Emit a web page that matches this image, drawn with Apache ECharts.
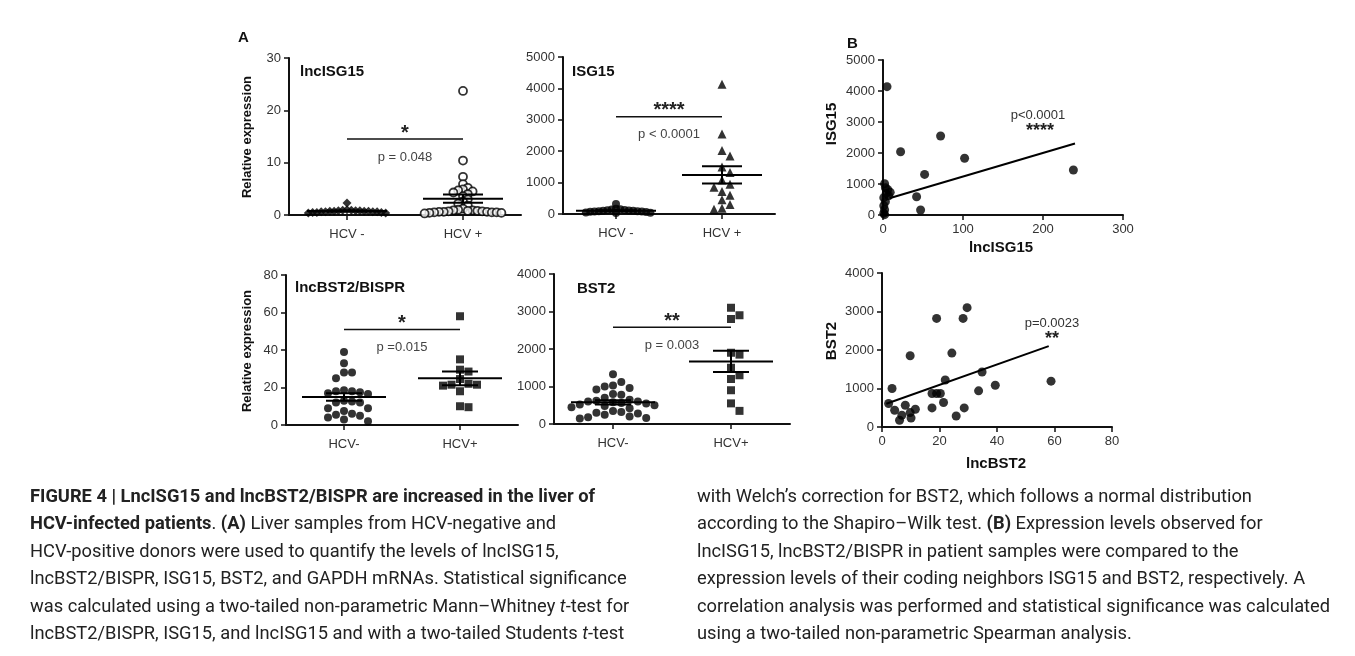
<!DOCTYPE html>
<html><head><meta charset="utf-8">
<script src="https://cdn.jsdelivr.net/npm/echarts/dist/echarts.min.js"></script>
<style>html,body{margin:0;padding:0;background:#fff}#c{width:1355px;height:656px}</style>
</head><body><div id="c"></div><script>
// ---------- data ----------
const groupsTop = ['HCV -', 'HCV +'];
const groupsBottom = ['HCV-', 'HCV+'];

const lncISG15_neg = [2.3, 1.0, 0.9, 0.9, 0.8, 0.8, 0.8, 0.7, 0.7, 0.7, 0.7, 0.6, 0.6, 0.6, 0.6, 0.5, 0.5, 0.5, 0.4, 0.4];
const lncISG15_pos = [23.7, 10.4, 7.3, 5.9, 5.2, 4.9, 4.7, 4.5, 4.3, 4.0, 3.6, 3.0, 2.6, 2.2, 1.8, 1.2, 1.0, 0.9, 0.9, 0.8, 0.8, 0.7, 0.7, 0.6, 0.6, 0.6, 0.5, 0.5, 0.5, 0.4, 0.4, 0.3];

const ISG15_neg = [320, 170, 150, 140, 130, 120, 110, 100, 100, 90, 90, 80, 80, 70, 60, 50, 40, 30];
const ISG15_pos = [4130, 2550, 2020, 1850, 1500, 1320, 1080, 950, 850, 720, 600, 450, 300, 180, 150];

const lncBST2_neg = [39, 33, 28, 28, 25, 18.5, 18, 18, 17.5, 17, 16.5, 13, 12.5, 12, 12, 9, 9, 7.5, 6, 5.5, 5, 4, 3, 2];
const lncBST2_pos = [58, 35, 29.5, 28.5, 24.5, 22, 21.5, 21.5, 21, 18, 10, 9.5];

const BST2_neg = [1330, 1120, 1030, 1000, 960, 920, 800, 780, 700, 650, 620, 600, 600, 580, 560, 550, 520, 500, 480, 450, 420, 350, 320, 300, 280, 250, 200, 180, 160, 150];
const BST2_pos = [3100, 2900, 2800, 1900, 1850, 1500, 1300, 1200, 900, 550, 350];

const scatterISG15 = [[5, 4140], [22, 2040], [72, 2550], [102, 1830], [52, 1310], [42, 590], [47, 160], [238, 1450],
  [2, 1010], [3, 880], [6, 820], [9, 730], [4, 690], [7, 620], [1, 560], [3, 430], [1, 300], [2, 170], [1, 60], [2, 10]];
const scatterBST2 = [[3.5, 1000], [9.8, 1850], [19, 2820], [28.2, 2820], [29.6, 3100], [24.3, 1920], [22, 1220], [34.8, 1430],
  [17.4, 870], [19, 870], [20.3, 870], [39.4, 1085], [33.6, 940], [58.8, 1190], [21.4, 635], [17.4, 495], [28.6, 495], [25.8, 285],
  [2.3, 610], [4.4, 435], [8.1, 565], [6.9, 305], [6.1, 175], [9.8, 375], [11.6, 460], [10.1, 235]];

// regression lines: [intercept, slope, xStart, xEnd]
const fitISG15 = [480, 7.6, 8, 240];
const fitBST2 = [565, 26.5, 1.5, 58];

const sigLevels = [14.5, 3100, 51, 2580];
const sigStars = ['*', '****', '*', '**'];
const sigP = ['p = 0.048', 'p < 0.0001', 'p =0.015', 'p = 0.003'];
const corrP = ['p<0.0001', 'p=0.0023'];
const corrStars = ['****', '**'];

// ---------- helpers ----------
const mean = a => a.reduce((s, v) => s + v, 0) / a.length;
const sem = a => { const m = mean(a); const v = a.reduce((s, x) => s + (x - m) * (x - m), 0) / (a.length - 1); return Math.sqrt(v / a.length); };

function swarm(values, pxPerUnit, step) {
  const order = values.map((v, i) => i).sort((a, b) => values[b] - values[a]);
  const placed = []; const offs = new Array(values.length).fill(0);
  order.forEach(i => {
    const y = values[i] * pxPerUnit;
    for (let k = 0; k < 400; k++) {
      const dx = k === 0 ? 0 : (k % 2 ? 1 : -1) * Math.ceil(k / 2) * step;
      if (placed.every(p => (p.x - dx) * (p.x - dx) + (p.y - y) * (p.y - y) >= step * step * 0.97)) {
        placed.push({ x: dx, y }); offs[i] = dx; break;
      }
    }
  });
  return offs;
}

const FONT = 'Liberation Sans, Arial, sans-serif';
const grids = [
  { left: 289, top: 58, width: 232, height: 157 },
  { left: 563, top: 57, width: 212, height: 157 },
  { left: 286, top: 275, width: 232, height: 150 },
  { left: 554, top: 274, width: 236, height: 150 },
  { left: 883, top: 60, width: 240, height: 155 },
  { left: 882, top: 273, width: 230, height: 154 }
];
const yMax = [30, 5000, 80, 4000, 5000, 4000];
const yInt = [10, 1000, 20, 1000, 1000, 1000];

const axisLine = { show: true, lineStyle: { color: '#111', width: 2 } };
const axisTick = { show: true, length: 5, lineStyle: { color: '#111', width: 1.5 } };
const lab = { color: '#333', fontFamily: FONT, fontSize: 13, formatter: v => String(v) };

const xAxes = [], yAxes = [];
for (let i = 0; i < 6; i++) {
  if (i < 4) {
    xAxes.push({ gridIndex: i, type: 'category', data: i < 2 ? groupsTop : groupsBottom, boundaryGap: true,
      axisLine, axisTick: Object.assign({ alignWithLabel: true }, axisTick),
      axisLabel: { margin: 13, color: '#333', fontFamily: FONT, fontSize: 13 }, splitLine: { show: false } });
  } else {
    xAxes.push({ gridIndex: i, type: 'value', min: 0, max: i === 4 ? 300 : 80, interval: i === 4 ? 100 : 20,
      axisLine, axisTick, axisLabel: Object.assign({ margin: 8 }, lab), splitLine: { show: false } });
  }
  yAxes.push({ gridIndex: i, type: 'value', min: 0, max: yMax[i], interval: yInt[i],
    axisLine, axisTick, axisLabel: Object.assign({ margin: 8 }, lab), splitLine: { show: false } });
}

const series = [];
function dotSeries(gi, cat, values, symbol, size, step, open) {
  const ppu = grids[gi].height / yMax[gi];
  const offs = swarm(values, ppu, step);
  series.push({ type: 'scatter', xAxisIndex: gi, yAxisIndex: gi, symbol, symbolSize: size, z: 3, silent: true,
    itemStyle: open ? { color: '#fff', borderColor: '#000', borderWidth: 1.8 } : { color: '#000' },
    data: values.map((v, i) => ({ value: [cat, v], symbolOffset: [offs[i], 0] })) });
}
function meanSem(gi, arrs, halfW, capW) {
  series.push({ type: 'custom', xAxisIndex: gi, yAxisIndex: gi, z: 5, silent: true,
    data: arrs.map((a, i) => [i, mean(a), sem(a)]),
    renderItem: (p, api) => {
      const c = api.value(0), m = api.value(1), s = api.value(2);
      const pm = api.coord([c, m]), pt = api.coord([c, m + s]), pb = api.coord([c, m - s]);
      const st = { stroke: '#000', lineWidth: 2 };
      return { type: 'group', children: [
        { type: 'line', shape: { x1: pm[0] - halfW, y1: pm[1], x2: pm[0] + halfW, y2: pm[1] }, style: st },
        { type: 'line', shape: { x1: pm[0], y1: pt[1], x2: pm[0], y2: pb[1] }, style: st },
        { type: 'line', shape: { x1: pm[0] - capW, y1: pt[1], x2: pm[0] + capW, y2: pt[1] }, style: st },
        { type: 'line', shape: { x1: pm[0] - capW, y1: pb[1], x2: pm[0] + capW, y2: pb[1] }, style: st }
      ] };
    } });
}
function sig(gi, k) {
  series.push({ type: 'custom', xAxisIndex: gi, yAxisIndex: gi, z: 6, silent: true,
    data: [[0.5, sigLevels[k]]],
    renderItem: (p, api) => {
      const lv = api.value(1);
      const a = api.coord([0, lv]), b = api.coord([1, lv]);
      const mx = (a[0] + b[0]) / 2;
      return { type: 'group', children: [
        { type: 'line', shape: { x1: a[0], y1: a[1], x2: b[0], y2: b[1] }, style: { stroke: '#111', lineWidth: 1.5 } },
        { type: 'text', x: mx, y: a[1] - 6, style: { text: sigStars[k], align: 'center', verticalAlign: 'middle', font: 'bold 20px ' + FONT, fill: '#222' } },
        { type: 'text', x: mx, y: a[1] + 18, style: { text: sigP[k], align: 'center', verticalAlign: 'middle', font: '13px ' + FONT, fill: '#444' } }
      ] };
    } });
}

// panel A
dotSeries(0, 0, lncISG15_neg, 'diamond', [9, 9], 4.3, false);
dotSeries(0, 1, lncISG15_pos, 'circle', 8, 4.8, true);
meanSem(0, [lncISG15_neg, lncISG15_pos], 40, 20);
sig(0, 0);

dotSeries(1, 0, ISG15_neg, 'circle', 8, 4.3, false);
dotSeries(1, 1, ISG15_pos, 'triangle', [9, 9], 8, false);
meanSem(1, [ISG15_neg, ISG15_pos], 40, 20);
sig(1, 1);

dotSeries(2, 0, lncBST2_neg, 'circle', 8, 8, false);
dotSeries(2, 1, lncBST2_pos, 'rect', [8, 8], 8.5, false);
meanSem(2, [lncBST2_neg, lncBST2_pos], 42, 18);
sig(2, 2);

dotSeries(3, 0, BST2_neg, 'circle', 8, 8.3, false);
dotSeries(3, 1, BST2_pos, 'rect', [8, 8], 8.5, false);
meanSem(3, [BST2_neg, BST2_pos], 42, 18);
sig(3, 3);

// panel B
[[4, scatterISG15, fitISG15], [5, scatterBST2, fitBST2]].forEach(([gi, pts, fit]) => {
  series.push({ type: 'scatter', xAxisIndex: gi, yAxisIndex: gi, symbol: 'circle', symbolSize: 9, silent: true,
    itemStyle: { color: '#000' }, data: pts });
  series.push({ type: 'line', xAxisIndex: gi, yAxisIndex: gi, symbol: 'none', silent: true, z: 4,
    lineStyle: { color: '#000', width: 2 },
    data: [[fit[2], fit[0] + fit[1] * fit[2]], [fit[3], fit[0] + fit[1] * fit[3]]] });
});

// ---------- texts ----------
const T = (x, y, text, font, extra) => Object.assign({ type: 'text', x, y, silent: true,
  style: Object.assign({ text, font, fill: '#111', align: 'left', verticalAlign: 'middle' }, extra || {}) });
const R = (x, y, text, font) => ({ type: 'text', x, y, rotation: Math.PI / 2, silent: true,
  style: { text, font, fill: '#111', align: 'center', verticalAlign: 'middle' } });

const graphics = [
  T(238, 38, 'A', 'bold 15px ' + FONT),
  T(847, 44, 'B', 'bold 15px ' + FONT),
  T(300, 72, 'lncISG15', 'bold 15px ' + FONT),
  T(572, 72, 'ISG15', 'bold 15px ' + FONT),
  T(295, 288, 'lncBST2/BISPR', 'bold 15px ' + FONT),
  T(577, 289, 'BST2', 'bold 15px ' + FONT),
  R(247, 137, 'Relative expression', 'bold 13px ' + FONT),
  R(247, 351, 'Relative expression', 'bold 13px ' + FONT),
  R(832, 124, 'ISG15', 'bold 15px ' + FONT),
  R(832, 341, 'BST2', 'bold 15px ' + FONT),
  T(1001, 248, 'lncISG15', 'bold 15px ' + FONT, { align: 'center' }),
  T(996, 464, 'lncBST2', 'bold 15px ' + FONT, { align: 'center' }),
  T(1038, 115, corrP[0], '13px ' + FONT, { align: 'center', fill: '#333' }),
  T(1040, 131, corrStars[0], 'bold 18px ' + FONT, { align: 'center', fill: '#222' }),
  T(1052, 323, corrP[1], '13px ' + FONT, { align: 'center', fill: '#333' }),
  T(1052, 339, corrStars[1], 'bold 18px ' + FONT, { align: 'center', fill: '#222' })
];

const CAP = 18.3;
const capFont = CAP + 'px Roboto, "Noto Sans", sans-serif';
const rich = { b: { fontWeight: 'bold', fontSize: CAP, fontFamily: 'Roboto' }, i: { fontStyle: 'italic', fontSize: CAP, fontFamily: 'Roboto' } };
const leftLines = [
  '{b|FIGURE 4 | LncISG15 and lncBST2/BISPR are increased in the liver of}',
  '{b|HCV-infected patients}. {b|(A)} Liver samples from HCV-negative and',
  'HCV-positive donors were used to quantify the levels of lncISG15,',
  'lncBST2/BISPR, ISG15, BST2, and GAPDH mRNAs. Statistical significance',
  'was calculated using a two-tailed non-parametric Mann–Whitney {i|t}-test for',
  'lncBST2/BISPR, ISG15, and lncISG15 and with a two-tailed Students {i|t}-test'
];
const rightLines = [
  'with Welch’s correction for BST2, which follows a normal distribution',
  'according to the Shapiro–Wilk test. {b|(B)} Expression levels observed for',
  'lncISG15, lncBST2/BISPR in patient samples were compared to the',
  'expression levels of their coding neighbors ISG15 and BST2, respectively. A',
  'correlation analysis was performed and statistical significance was calculated',
  'using a two-tailed non-parametric Spearman analysis.'
];
leftLines.forEach((t, i) => graphics.push(T(30, 497 + i * 27.5, t, capFont, { rich, fill: '#222' })));
rightLines.forEach((t, i) => graphics.push(T(697, 497 + i * 27.5, t, capFont, { rich, fill: '#222' })));

const chart = echarts.init(document.getElementById('c'), null, { renderer: 'canvas', width: 1355, height: 656 });
chart.setOption({
  backgroundColor: '#fff', animation: false,
  grid: grids, xAxis: xAxes, yAxis: yAxes, series, graphic: graphics
});
</script></body></html>
